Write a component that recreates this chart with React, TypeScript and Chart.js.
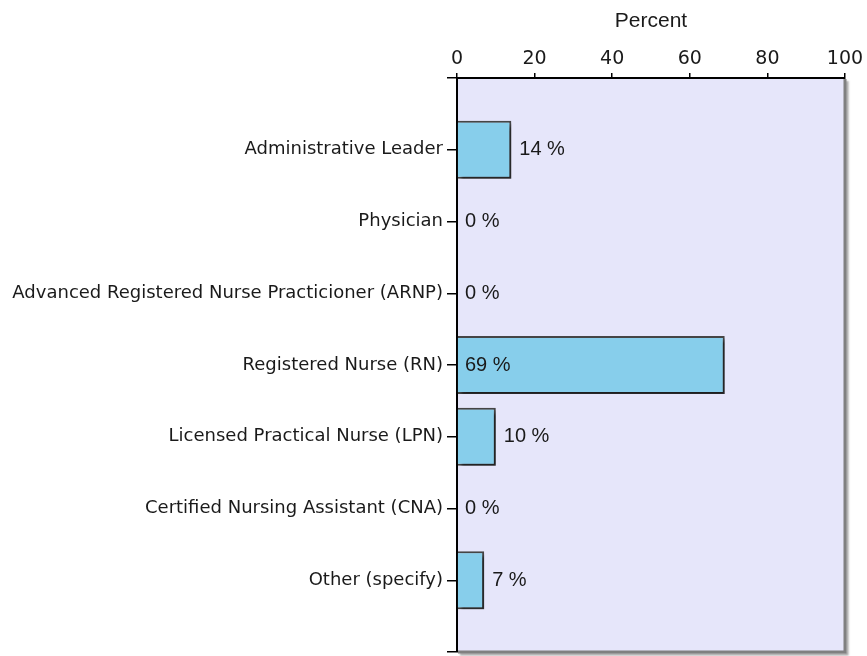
import React, { useEffect, useRef } from 'react';
import { Chart, registerables } from 'chart.js';

Chart.register(...registerables);

const categories = [
  'Administrative Leader',
  'Physician',
  'Advanced Registered Nurse Practicioner (ARNP)',
  'Registered Nurse (RN)',
  'Licensed Practical Nurse (LPN)',
  'Certified Nursing Assistant (CNA)',
  'Other (specify)',
];
const percents = [14, 0, 0, 69, 10, 0, 7];
const xTicks = [0, 20, 40, 60, 80, 100];
const axisTitle = 'Percent';

export default function App() {
  const ref = useRef<HTMLCanvasElement>(null);

  useEffect(() => {
    if (!ref.current) return;
    const labels = ['', ...categories, ''];
    const data: (number | null)[] = [null, ...percents, null];

    const decor = {
      id: 'decor',
      beforeDraw(chart: any) {
        const { ctx, chartArea: a } = chart;
        ctx.save();
        ctx.fillStyle = '#E6E6FA';
        ctx.fillRect(a.left, a.top, a.right - a.left, a.bottom - a.top);
        ctx.restore();
      },
      beforeDatasetsDraw(chart: any) {
        const ctx = chart.ctx;
        ctx.save();
        ctx.shadowColor = 'rgba(0,0,0,0.55)';
        ctx.shadowOffsetX = 3;
        ctx.shadowOffsetY = 3;
        ctx.shadowBlur = 3;
      },
      afterDatasetsDraw(chart: any) {
        const ctx = chart.ctx;
        ctx.restore();
        const meta = chart.getDatasetMeta(0);
        const xs = chart.scales.x;
        ctx.save();
        ctx.font = '20px "Liberation Sans", Arial, sans-serif';
        ctx.fillStyle = '#1a1a1a';
        ctx.textAlign = 'left';
        ctx.textBaseline = 'middle';
        meta.data.forEach((el: any, i: number) => {
          const v = data[i];
          if (v == null) return;
          const x = v > 50 ? xs.getPixelForValue(0) + 8 : xs.getPixelForValue(v) + 8;
          ctx.fillText(`${v} %`, x, el.y);
        });
        ctx.restore();
      },
      afterDraw(chart: any) {
        const { ctx, chartArea: a } = chart;
        ctx.save();
        ctx.shadowColor = 'rgba(0,0,0,0.35)';
        ctx.shadowOffsetX = 2;
        ctx.shadowOffsetY = 2;
        ctx.shadowBlur = 2;
        ctx.strokeStyle = '#808080';
        ctx.lineWidth = 3;
        ctx.beginPath();
        ctx.moveTo(a.right, a.top + 1);
        ctx.lineTo(a.right, a.bottom);
        ctx.lineTo(a.left + 1, a.bottom);
        ctx.stroke();
        ctx.restore();
      },
    };

    const chart = new Chart(ref.current, {
      type: 'bar',
      data: {
        labels,
        datasets: [
          {
            data,
            backgroundColor: '#87CEEB',
            borderColor: '#454545',
            borderWidth: (c: any) => (c.raw ? 2 : 0),
            borderSkipped: 'start',
            categoryPercentage: 1,
            barPercentage: 0.81,
          },
        ],
      },
      options: {
        indexAxis: 'y',
        animation: false,
        responsive: true,
        maintainAspectRatio: false,
        layout: { padding: { left: 0, right: 22, top: 0, bottom: 4 } },
        plugins: { legend: { display: false }, tooltip: { enabled: false } },
        scales: {
          x: {
            type: 'linear',
            position: 'top',
            min: 0,
            max: 100,
            afterBuildTicks: (s: any) => {
              s.ticks = xTicks.map((v) => ({ value: v }));
            },
            ticks: {
              padding: 3,
              font: { family: '"DejaVu Sans", sans-serif', size: 19 },
              color: '#1a1a1a',
            },
            grid: { drawOnChartArea: false, tickLength: 5, color: '#000', lineWidth: 1.5 },
            border: { color: '#000', width: 2 },
            title: {
              display: true,
              text: axisTitle,
              font: { family: '"Liberation Sans", Arial, sans-serif', size: 21 },
              color: '#1a1a1a',
              padding: { top: 9, bottom: 0 },
            },
            afterFit: (s: any) => {
              s.height = 78;
              s.paddingLeft = 0;
              s.paddingRight = 0;
            },
          },
          y: {
            type: 'category',
            offset: false,
            grid: { offset: false, drawOnChartArea: false, tickLength: 10, color: '#000', lineWidth: 1.5 },
            border: { color: '#000', width: 2 },
            ticks: {
              autoSkip: false,
              padding: 4,
              font: { family: '"DejaVu Sans", sans-serif', size: 18 },
              color: '#1a1a1a',
            },
            afterFit: (s: any) => {
              s.width = 457;
              s.paddingTop = 0;
              s.paddingBottom = 0;
            },
          },
        },
      },
      plugins: [decor],
    } as any);

    return () => chart.destroy();
  }, []);

  return (
    <div style={{ position: 'fixed', left: 0, top: 0, width: 867, height: 656 }}>
      <canvas ref={ref} />
    </div>
  );
}
